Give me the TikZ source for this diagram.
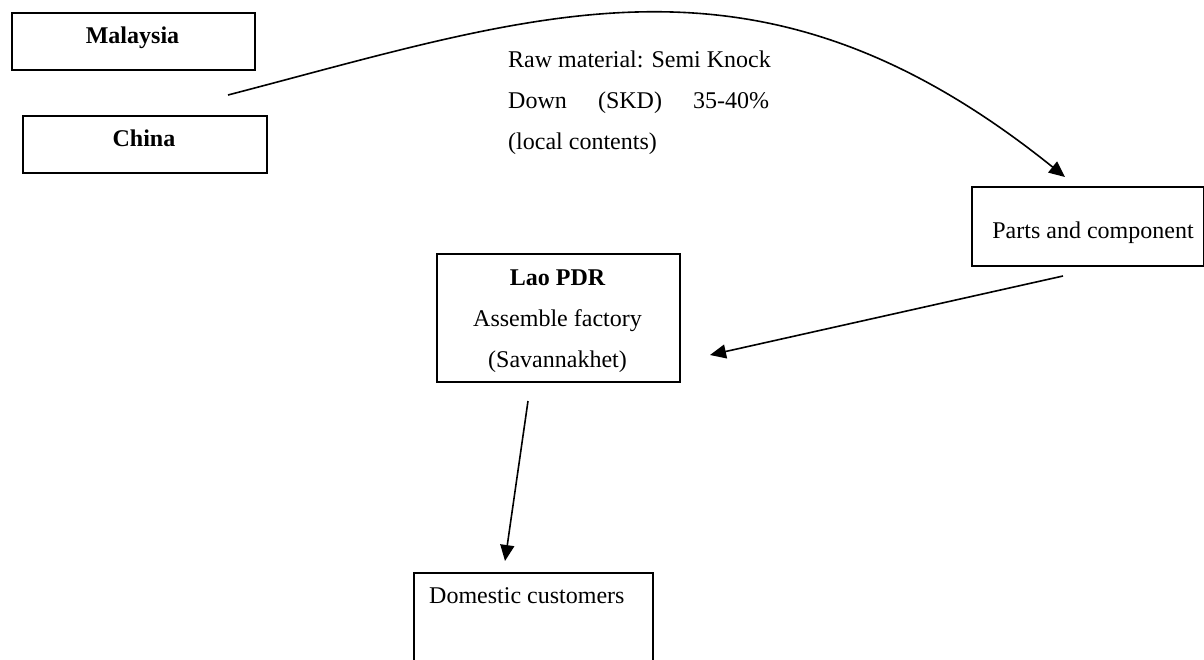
\documentclass[tikz,border=0pt]{standalone}
\usepackage{fontspec}
\setmainfont{Liberation Serif}
\usetikzlibrary{arrows.meta}
\newcommand{\myfs}{\fontsize{24}{41}\selectfont}
\begin{document}
\begin{tikzpicture}[x=1pt,y=-1pt,
  box/.style={draw, line width=1.6pt, inner sep=0pt, anchor=north west},
  txt/.style={inner sep=0pt, font=\myfs},
  btxt/.style={inner sep=0pt, font=\myfs\bfseries},
  conn/.style={line width=1.6pt, -{Triangle[length=16pt,width=14pt]}}]
\useasboundingbox (0,0) rectangle (1204,659);
\clip (0,0) rectangle (1204,659);
% boxes
\node[box, minimum width=243pt, minimum height=57pt] (malbox) at (11,12) {};
\node[box, minimum width=244pt, minimum height=57pt] (chibox) at (22,115) {};
\node[box, minimum width=232pt, minimum height=79pt] (partbox) at (971,186) {};
\node[box, minimum width=243pt, minimum height=128pt] (laobox) at (436,253) {};
\node[box, minimum width=239pt, minimum height=120pt] (dombox) at (413,572) {};
% labels
\node[btxt, anchor=base] (mal) at (132.5,43) {Malaysia};
\node[btxt, anchor=base] (chi) at (144,146) {China};
\node[txt, anchor=base] (part) at (1093,238) {Parts and component};
\node[btxt, anchor=base] (lao1) at (557.5,285) {Lao PDR};
\node[txt, anchor=base] (lao2) at (557.5,326) {Assemble factory};
\node[txt, anchor=base] (lao3) at (557.5,367) {(Savannakhet)};
\node[txt, anchor=base west] (dom) at (429,603) {Domestic customers};
\node[txt, anchor=base west] (rm1) at (508,67) {Raw material: Semi Knock};
\node[txt, anchor=base west] (rm2) at (508,108) {\makebox[261pt][s]{Down (SKD) 35-40\%}};
\node[txt, anchor=base west] (rm3) at (508,149) {(local contents)};
% connector ends
\coordinate (c1s) at (228,95);
\coordinate (c1e) at (1065,177);
\coordinate (c2s) at (1063,276);
\coordinate (c2e) at (710,355);
\coordinate (c3s) at (528,401);
\coordinate (c3e) at (505,561);
\draw[conn] (c1s) .. controls (543,13) and (759,-69) .. (c1e);
\draw[conn] (c2s) -- (c2e);
\draw[conn] (c3s) -- (c3e);
\end{tikzpicture}
\end{document}
